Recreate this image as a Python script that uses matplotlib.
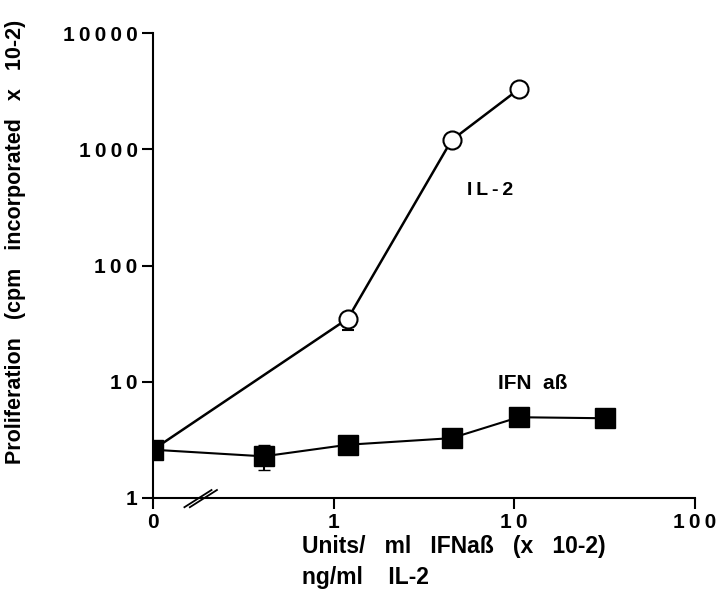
import matplotlib
matplotlib.use('Agg')
import matplotlib.pyplot as plt

# datos (el "0" del eje x se dibuja en 0.1, escala log)
x_il2 = [0, 1.2, 4.5, 10.6]
y_il2 = [2.6, 35, 1200, 3300]
err_il2_abajo = [0, 7, 0, 0]
err_il2_arriba = [0, 0, 0, 0]

x_ifn = [0, 0.41, 1.2, 4.5, 10.6, 32]
y_ifn = [2.6, 2.28, 2.87, 3.27, 4.95, 4.85]
err_ifn_abajo = [0, 0.55, 0, 0, 0, 0]
err_ifn_arriba = [0, 0.58, 0, 0, 0, 0]

x_ticks = [0, 1, 10, 100]
y_ticks = [1, 10, 100, 1000, 10000]

CERO = 0.1
FUENTE = ['Liberation Sans', 'DejaVu Sans']


def pos(xs):
    return [CERO if v == 0 else v for v in xs]


def espaciado(s):
    # las etiquetas del original tienen letras separadas
    return '\u2009'.join(s)


def main():
    plt.rcParams['font.family'] = FUENTE
    plt.rcParams['font.weight'] = 'bold'

    fig = plt.figure(figsize=(7.2, 6.05), dpi=100)
    ax = fig.add_axes([0.2125, 0.177, 0.7525, 0.768])

    ax.errorbar(pos(x_ifn), y_ifn, yerr=[err_ifn_abajo, err_ifn_arriba],
                color='black', linewidth=1.5, elinewidth=1.5, capsize=4,
                marker='s', markersize=15, markerfacecolor='black',
                markeredgecolor='black', zorder=3)
    ax.errorbar(pos(x_il2), y_il2, yerr=[err_il2_abajo, err_il2_arriba],
                color='black', linewidth=1.8, elinewidth=1.5, capsize=4,
                marker='o', markersize=13, markerfacecolor='white',
                markeredgecolor='black', markeredgewidth=1.5, zorder=2)

    ax.set_xscale('log')
    ax.set_yscale('log')
    ax.set_xlim(CERO, 100)
    ax.set_ylim(1, 10000)

    ax.set_xticks(pos(x_ticks))
    ax.set_xticklabels([espaciado(str(t)) for t in x_ticks])
    ax.set_yticks(y_ticks)
    ax.set_yticklabels([espaciado(str(t)) for t in y_ticks])
    ax.minorticks_off()
    ax.tick_params(axis='both', direction='out', length=8, width=1.5,
                   labelsize=15, pad=3)

    for lado in ['top', 'right']:
        ax.spines[lado].set_visible(False)
    for lado in ['left', 'bottom']:
        ax.spines[lado].set_linewidth(1.5)

    # marca de corte del eje x
    for dx in [0.0, 0.01]:
        ax.plot([0.058 + dx, 0.108 + dx], [-0.02, 0.017], transform=ax.transAxes,
                color='black', linewidth=1.3, clip_on=False)

    ax.text(0.622, 0.662, espaciado('IL-2'), transform=ax.transAxes,
            fontsize=14, ha='center', va='center')
    ax.text(0.701, 0.247, 'IFN  aß', transform=ax.transAxes,
            fontsize=15, ha='center', va='center')

    fig.text(0.021, 0.60, 'Proliferation   (cpm   incorporated   x   10-2)',
             rotation=90, fontsize=15.5, ha='center', va='center')
    fig.text(0.419, 0.0975, 'Units/   ml   IFNaß   (x   10-2)',
             fontsize=16.5, ha='left', va='center')
    fig.text(0.419, 0.045, 'ng/ml    IL-2',
             fontsize=16.5, ha='left', va='center')

    fig.savefig('out.png', dpi=100)


if __name__ == "__main__":
    main()
